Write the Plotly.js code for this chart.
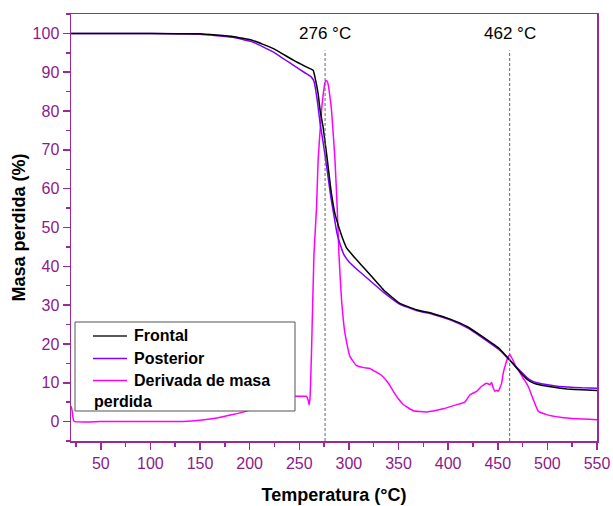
<!DOCTYPE html>
<html>
<head>
<meta charset="utf-8">
<script src="https://cdn.plot.ly/plotly-3.0.1.min.js"></script>
<style>body{margin:0;padding:0;background:#fff;} #chart{width:613px;height:506px;}</style>
</head>
<body>
<div id="chart"></div>
<script>
// Frontal (mass %) vs temperature
var frontalT = [20, 50, 100, 150, 183, 203, 224, 244, 256, 264, 266, 269, 271, 274, 278, 282, 286, 290, 294, 298, 306, 318, 335, 351, 368, 385, 402, 419, 435, 452, 462, 472, 480, 486, 493, 500, 510, 520, 535, 550];
var frontalV = [100, 100, 100, 99.9, 99.2, 98.2, 96.1, 93.1, 91.5, 90.5, 88.5, 84.5, 80.2, 75.9, 68, 59.5, 53.5, 50, 47, 44.6, 42.2, 38.8, 33.9, 30.5, 28.8, 27.8, 26.4, 24.5, 21.8, 18.7, 15.9, 12.9, 10.8, 9.9, 9.4, 9.1, 8.7, 8.4, 8.2, 8.0];

// Posterior (mass %)
var posteriorT = [20, 50, 100, 150, 183, 203, 224, 244, 256, 262, 265, 268, 271, 274, 278, 282, 285, 288, 291, 295, 300, 310, 320, 335, 351, 368, 385, 402, 419, 435, 452, 462, 472, 480, 486, 493, 500, 510, 520, 535, 550];
var posteriorV = [100, 100, 100, 99.8, 99.0, 97.8, 95.2, 91.8, 89.8, 88.8, 87.5, 83, 76.8, 72, 65, 57.5, 53, 48.5, 45.8, 43, 41.2, 38.8, 36.6, 33.3, 30.3, 28.6, 27.6, 26.2, 24.2, 21.5, 18.4, 15.8, 13.2, 11.2, 10.3, 9.8, 9.5, 9.1, 8.9, 8.7, 8.6];

// Derivative of mass loss (scaled)
var derivT = [20, 21, 23, 50, 100, 133, 150, 167, 183, 197, 210, 225, 240, 246, 252, 257.4, 259, 260, 260.8, 261.4, 262.4, 264.8, 267.4, 269, 272.5, 274, 276, 277.5, 279, 281, 282.5, 286, 288.3, 290, 292.6, 296, 301, 307.8, 315, 321, 324.5, 330, 334.6, 340, 344.8, 350, 354.8, 364.9, 378.3, 395, 411.9, 416.9, 422, 428.7, 433.8, 438.8, 442.1, 443.8, 445.4, 447.2, 448.8, 450.5, 452.2, 453.9, 455.5, 458.3, 460.6, 462.3, 465, 467.2, 470.5, 475.6, 480.6, 485.8, 490.8, 499.3, 513, 529.5, 550];
var derivV = [4, 3, 0.1, 0, 0, 0.05, 0.35, 0.95, 1.8, 2.7, 3.8, 5.0, 6.2, 6.5, 6.5, 6.5, 5.5, 4.3, 6, 9.9, 18.5, 43, 55, 67.4, 80.2, 84, 87.4, 87.9, 87, 83.5, 80.2, 67.4, 54.5, 43, 31.4, 22.8, 16.8, 14.4, 13.9, 13.7, 13.2, 12.4, 11.5, 9.8, 7.8, 5.8, 4.4, 2.8, 2.5, 3.3, 4.6, 5.0, 6.9, 7.8, 9.1, 9.9, 9.5, 10.1, 8.7, 7.8, 8.1, 7.8, 8.7, 9.9, 12.5, 15.1, 16.8, 17.2, 16, 14.7, 13.4, 11.2, 9.1, 5.7, 2.7, 1.8, 1.1, 0.7, 0.5];

var seriesNames = ["Frontal", "Posterior", "Derivada de masa", "perdida"];
var peakTemps = [276, 462];
var peakLabels = ["276 °C", "462 °C"];
var xTicks = [50, 100, 150, 200, 250, 300, 350, 400, 450, 500, 550];
var yTicks = [0, 10, 20, 30, 40, 50, 60, 70, 80, 90, 100];

var cBlack = "#000000", cViolet = "#8000ff", cMagenta = "#ff00ff";
var axisCol = "#9a2a9a", tickCol = "#8b1a8b";

var traces = [
  {x: derivT, y: derivV, mode: "lines", line: {color: cMagenta, width: 1.5, shape: "spline", smoothing: 0.4}, name: seriesNames[2], showlegend: false},
  {x: posteriorT, y: posteriorV, mode: "lines", line: {color: cViolet, width: 1.5, shape: "spline", smoothing: 0.3}, name: seriesNames[1], showlegend: false},
  {x: frontalT, y: frontalV, mode: "lines", line: {color: cBlack, width: 1.5, shape: "spline", smoothing: 0.3}, name: seriesNames[0], showlegend: false}
];

var L = 71, R = 597, T = 14, B = 441;
function px(x){ return (x - L) / (R - L); }
function py(y){ return (B - y) / (B - T); }

var shapes = [];
var annotations = [];
peakTemps.forEach(function(t, i){
  shapes.push({type: "line", xref: "x", yref: "y", x0: t, x1: t, y0: -5, y1: 95.6,
    line: {color: "#666", width: 1, dash: "3px,2px"}});
  annotations.push({xref: "x", yref: "y", x: t, y: 100, text: peakLabels[i], showarrow: false,
    xanchor: "center", yanchor: "middle", font: {family: "Liberation Sans, Arial", size: 17, color: "#000"}});
});

// legend box
shapes.push({type: "rect", xref: "paper", yref: "paper", x0: px(75), x1: px(295), y0: py(411), y1: py(322),
  fillcolor: "#fff", line: {color: "#555", width: 1}, layer: "above"});
var legCols = ["#222", cViolet, cMagenta];
var legY = [336, 358.5, 380.5];
legCols.forEach(function(c, i){
  shapes.push({type: "line", xref: "paper", yref: "paper", x0: px(93), x1: px(127), y0: py(legY[i]), y1: py(legY[i]),
    line: {color: c, width: 1.5}, layer: "above"});
  annotations.push({xref: "paper", yref: "paper", x: px(132), y: py(legY[i] - 0.5), text: seriesNames[i], showarrow: false,
    xanchor: "left", yanchor: "middle", font: {family: "Liberation Sans, Arial", size: 16, color: "#000", weight: "bold"}});
});
annotations.push({xref: "paper", yref: "paper", x: px(92), y: py(401.5), text: seriesNames[3], showarrow: false,
  xanchor: "left", yanchor: "middle", font: {family: "Liberation Sans, Arial", size: 16, color: "#000", weight: "bold"}});

var layout = {
  width: 613, height: 506,
  margin: {l: L, r: 613 - R, t: T, b: 506 - B},
  paper_bgcolor: "#fff", plot_bgcolor: "#fff",
  font: {family: "Liberation Sans, Arial", size: 16, color: tickCol},
  showlegend: false,
  xaxis: {
    range: [20, 550], tickvals: xTicks, ticktext: xTicks.map(String),
    ticks: "outside", ticklen: 7, tickwidth: 1.5, tickcolor: axisCol,
    minor: {dtick: 25, tick0: 25, ticks: "outside", ticklen: 4, tickwidth: 1.5, tickcolor: axisCol},
    showline: true, linecolor: axisCol, linewidth: 1.5, mirror: true,
    showgrid: false, zeroline: false,
    tickfont: {size: 16, color: tickCol},
    title: {text: "Temperatura (°C)", font: {size: 18, color: "#000", weight: "bold"}, standoff: 17}
  },
  yaxis: {
    range: [-5, 105], tickvals: yTicks, ticktext: yTicks.map(String),
    ticks: "outside", ticklen: 7, tickwidth: 1.5, tickcolor: axisCol,
    minor: {dtick: 5, tick0: 5, ticks: "outside", ticklen: 4, tickwidth: 1.5, tickcolor: axisCol},
    showline: true, linecolor: axisCol, linewidth: 1.5, mirror: true,
    showgrid: false, zeroline: false,
    tickfont: {size: 16, color: tickCol},
    title: {text: "Masa perdida (%)", font: {size: 18, color: "#000", weight: "bold"}, standoff: 2}
  },
  shapes: shapes,
  annotations: annotations
};

Plotly.newPlot("chart", traces, layout, {displayModeBar: false, staticPlot: true});
</script>
</body>
</html>
